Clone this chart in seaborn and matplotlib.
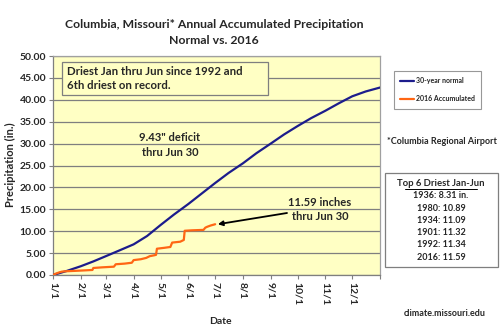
import matplotlib
matplotlib.use("Agg")
import matplotlib.pyplot as plt
import seaborn as sns
import pandas as pd
from matplotlib.patches import Rectangle
from matplotlib.lines import Line2D

# ---- data ----
normal_days = [0, 15, 31, 45, 59, 74, 90, 105, 120, 135, 151, 166, 181, 196,
               212, 227, 243, 258, 273, 288, 304, 319, 334, 349, 365]
normal_vals = [0.0, 0.9, 2.0, 3.1, 4.3, 5.6, 7.0, 8.9, 11.4, 13.8, 16.2, 18.6,
               21.0, 23.3, 25.5, 27.8, 30.0, 32.1, 34.0, 35.8, 37.5, 39.2,
               40.8, 41.9, 42.8]

acc_days = [0, 3, 7, 10, 14, 25, 35, 44, 45, 55, 68, 70, 80, 88, 90, 98, 104,
            108, 113, 115, 116, 124, 131, 133, 142, 144, 146, 147, 155, 168,
            170, 172, 176, 181]
acc_vals = [0.0, 0.3, 0.6, 0.77, 0.85, 0.95, 1.05, 1.15, 1.6, 1.75, 1.9, 2.45,
            2.6, 2.8, 3.4, 3.6, 3.9, 4.3, 4.5, 4.6, 6.0, 6.2, 6.4, 7.4, 7.6,
            7.8, 8.0, 10.1, 10.2, 10.3, 10.8, 11.0, 11.3, 11.59]

month_ticks = [0, 31, 59, 90, 120, 151, 181, 212, 243, 273, 304, 334, 365]
month_labels = ["1/1", "2/1", "3/1", "4/1", "5/1", "6/1", "7/1", "8/1",
                "9/1", "10/1", "11/1", "12/1", ""]
y_ticks = [0, 5, 10, 15, 20, 25, 30, 35, 40, 45, 50]

driest_years = ["1936: 8.31 in.", "1980: 10.89", "1934: 11.09",
                "1901: 11.32", "1992: 11.34", "2016: 11.59"]

series_names = ["30-year normal", "2016 Accumulated"]
BLUE = "#1c1c8c"
ORANGE = "#ff6614"

sns.set_theme(style="white")
plt.rcParams["font.family"] = ["Lato", "DejaVu Sans"]
plt.rcParams["font.weight"] = "bold"

fig = plt.figure(figsize=(5.0, 3.28), dpi=100)
ax = fig.add_axes([53 / 500, 1 - 275 / 328, (380 - 53) / 500, (275 - 56) / 328])
ax.set_facecolor("#ffffc4")

df_n = pd.DataFrame({"day": normal_days, "val": normal_vals})
df_a = pd.DataFrame({"day": acc_days, "val": acc_vals})
sns.lineplot(data=df_n, x="day", y="val", ax=ax, color=BLUE, linewidth=1.6,
             label=series_names[0], zorder=3)
sns.lineplot(data=df_a, x="day", y="val", ax=ax, color=ORANGE, linewidth=1.6,
             label=series_names[1], zorder=3)

ax.set_xlim(0, 365)
ax.set_ylim(0, 50)
ax.set_yticks(y_ticks)
ax.set_yticklabels([f"{v:.2f}" for v in y_ticks], fontsize=7.5, fontweight="bold")
ax.set_xticks(month_ticks)
ax.set_xticklabels(month_labels, rotation=-90, fontsize=7.5, fontweight="bold")
ax.grid(axis="y", color="#7f7f7f", linewidth=0.9)
ax.grid(axis="x", visible=False)
ax.tick_params(axis="both", which="major", length=3, width=0.8, color="#7f7f7f",
               direction="out", pad=2)
ax.tick_params(axis="x", bottom=True)
ax.tick_params(axis="y", left=True)
for s in ax.spines.values():
    s.set_color("#a0a0a0")
    s.set_linewidth(0.9)
ax.spines["left"].set_color("#7f7f7f")
ax.spines["bottom"].set_color("#7f7f7f")

ax.set_xlabel("")
ax.set_ylabel("")
fig.text(220 / 500, 1 - 321 / 328, "Date", ha="center", va="center",
         fontsize=7.5, fontweight="bold")
fig.text(10 / 500, 1 - 165 / 328, "Precipitation (in.)", ha="center", va="center",
         rotation=90, fontsize=8, fontweight="bold")

fig.text(214 / 500, 1 - 25 / 328, "Columbia, Missouri* Annual Accumulated Precipitation",
         ha="center", va="center", fontsize=8.8, fontweight="bold")
fig.text(214 / 500, 1 - 41 / 328, "Normal vs. 2016",
         ha="center", va="center", fontsize=8.8, fontweight="bold")

# legend
leg = ax.legend(loc="upper left", bbox_to_anchor=(394 / 500, 1 - 71 / 328),
                bbox_transform=fig.transFigure, frameon=True, fancybox=False,
                fontsize=5, handlelength=2.0, handletextpad=0.2,
                labelspacing=1.6, borderpad=0.9, borderaxespad=0)
leg.get_frame().set_edgecolor("#7f7f7f")
leg.get_frame().set_linewidth(0.8)
for t in leg.get_texts():
    t.set_fontweight("bold")

# text box top-left
fig.add_artist(Rectangle((62 / 500, 1 - 95 / 328), (268 - 62) / 500, 33 / 328,
                         transform=fig.transFigure, facecolor="#ffffc4",
                         edgecolor="#7f7f7f", linewidth=0.9, zorder=5))
fig.text(67 / 500, 1 - 78.5 / 328,
         "Driest Jan thru Jun since 1992 and\n6th driest on record.",
         ha="left", va="center", fontsize=8.2, fontweight="bold",
         linespacing=1.35, zorder=6)

fig.text(170 / 500, 1 - 145 / 328, "9.43\" deficit\nthru Jun 30",
         ha="center", va="center", fontsize=8, fontweight="bold", linespacing=1.35)

fig.text(320 / 500, 1 - 209.5 / 328, "11.59 inches\nthru Jun 30",
         ha="center", va="center", fontsize=8, fontweight="bold", linespacing=1.3)
ax.annotate("", xy=(184, 11.59), xycoords="data",
            xytext=(287 / 500, 1 - 213 / 328), textcoords="figure fraction",
            arrowprops=dict(arrowstyle="-|>", color="black", lw=1.3,
                            mutation_scale=7, shrinkA=0, shrinkB=0))

fig.text(442 / 500, 1 - 141 / 328, "*Columbia Regional Airport",
         ha="center", va="center", fontsize=6.5, fontweight="bold")

# top 6 box
fig.add_artist(Rectangle((385 / 500, 1 - 267 / 328), (498 - 385) / 500,
                         (267 - 173) / 328, transform=fig.transFigure,
                         facecolor="white", edgecolor="#7f7f7f",
                         linewidth=0.9, zorder=5))
fig.text(441 / 500, 1 - 183 / 328, "Top 6 Driest Jan-Jun", ha="center", va="center",
         fontsize=6.8, fontweight="bold", zorder=6)
fig.add_artist(Line2D([405 / 500, 477 / 500], [1 - 188.5 / 328, 1 - 188.5 / 328],
                      transform=fig.transFigure, color="black", lw=0.7, zorder=7))
for i, line in enumerate(driest_years):
    fig.text(441 / 500, 1 - (196 + 12.2 * i) / 328, line, ha="center", va="center",
             fontsize=6.5, fontweight="bold", zorder=6)

fig.text(445 / 500, 1 - 314 / 328, "climate.missouri.edu", ha="center",
         va="center", fontsize=6.5, fontweight="bold")

fig.savefig("out.png", dpi=100)
